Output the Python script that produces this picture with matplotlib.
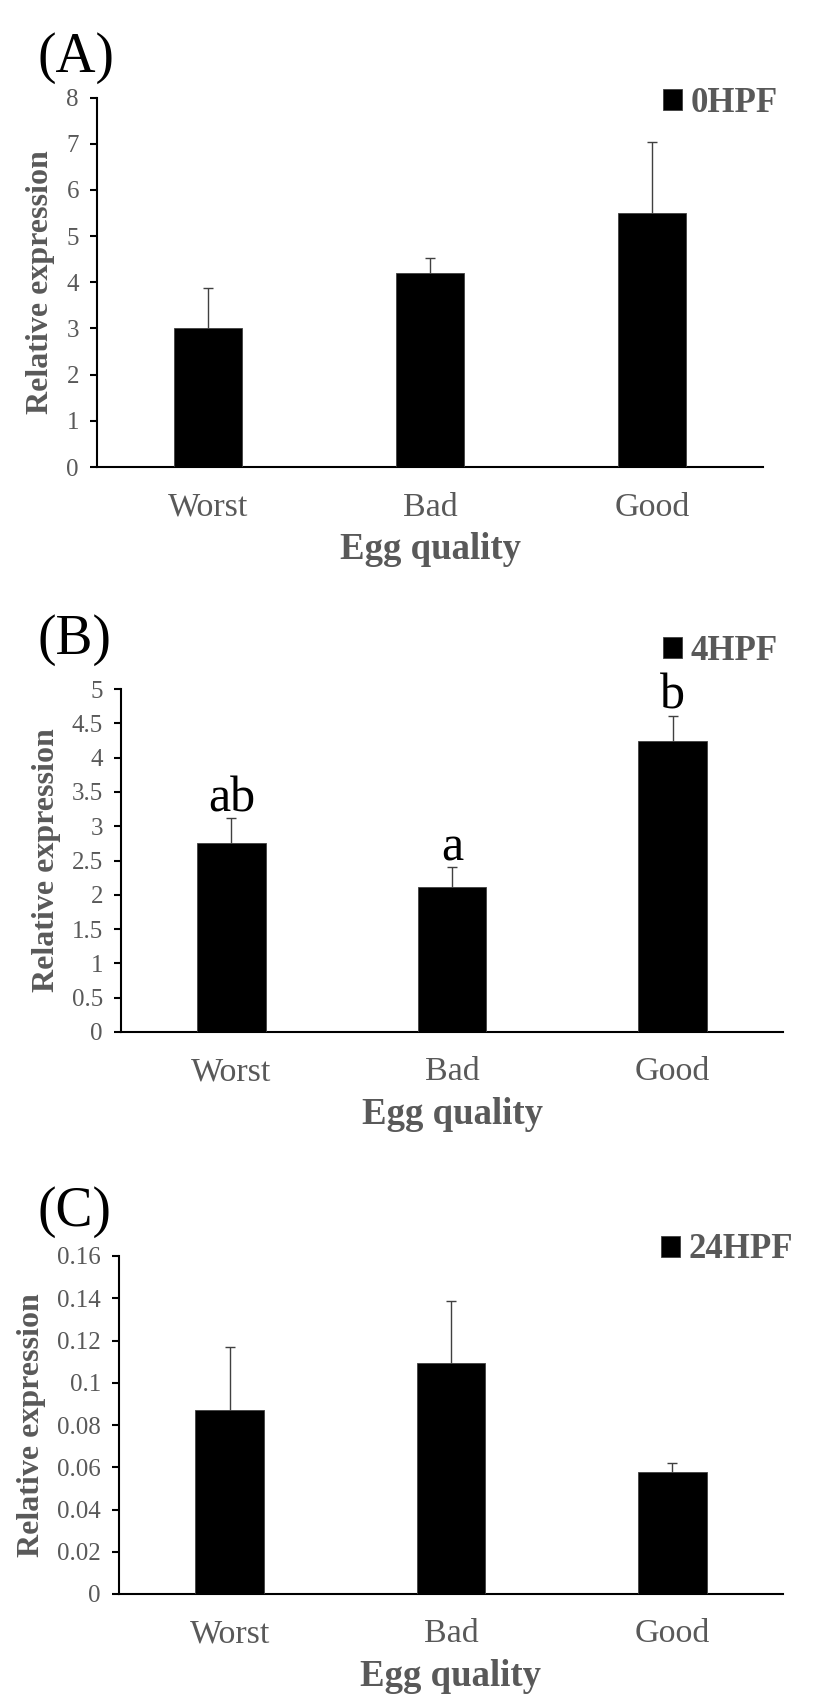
import matplotlib
matplotlib.use("Agg")
import matplotlib.pyplot as plt
from matplotlib.ticker import MultipleLocator, FormatStrFormatter

plt.rcParams['font.family'] = ['Liberation Serif', 'DejaVu Serif']

# ---------------- data ----------------
categories = ['Worst', 'Bad', 'Good']

a_means = [3.01, 4.19, 5.49]
a_err = [0.87, 0.34, 1.55]

b_means = [2.76, 2.12, 4.24]
b_err = [0.36, 0.28, 0.37]
b_letters = ['ab', 'a', 'b']

c_means = [0.0869, 0.1095, 0.0577]
c_err = [0.030, 0.0293, 0.0045]

panel_labels = ['(A)', '(B)', '(C)']
legend_labels = ['0HPF', '4HPF', '24HPF']
y_limits = [(0, 8), (0, 5), (0, 0.16)]
y_steps = [1, 0.5, 0.02]

# ---------------- layout (pixels) ----------------
W, H = 827, 1697
fig = plt.figure(figsize=(W / 100, H / 100), dpi=100)

def px_axes(left, right, top, bottom):
    return fig.add_axes([left / W, 1 - bottom / H, (right - left) / W, (bottom - top) / H])

axes_px = [(97, 763, 97.5, 467), (121, 783, 689, 1032), (119, 783, 1256, 1594)]
label_px = [(37, 58), (37, 640), (37, 1212)]
legend_px = [(663, 103), (663, 651), (661, 1250)]

GRAY = '#595959'
means_all = [a_means, b_means, c_means]
err_all = [a_err, b_err, c_err]

for i in range(3):
    ax = px_axes(*axes_px[i])
    x = list(range(len(categories)))
    bars = ax.bar(x, means_all[i], width=0.31, color='black', edgecolor='#404040',
                  linewidth=0.6, zorder=3, label=legend_labels[i])
    eb = ax.errorbar(x, means_all[i], yerr=[[0] * 3, err_all[i]], fmt='none',
                     ecolor='#404040', elinewidth=1.0, capsize=3.5, capthick=1.0, zorder=2)
    # hide lower caps (sitting on bar tops)
    eb[1][0].set_visible(False)

    ax.set_xlim(-0.5, 2.5)
    ax.set_ylim(*y_limits[i])
    ax.yaxis.set_major_locator(MultipleLocator(y_steps[i]))
    ax.yaxis.set_major_formatter(FormatStrFormatter('%g'))
    ax.set_xticks(x)
    ax.set_xticklabels(categories)

    for s in ['top', 'right']:
        ax.spines[s].set_visible(False)
    for s in ['left', 'bottom']:
        ax.spines[s].set_linewidth(1.5)
        ax.spines[s].set_color('black')

    ax.tick_params(axis='y', direction='out', length=5, width=1.5, pad=8,
                   labelsize=18, labelcolor=GRAY, color='black')
    ax.tick_params(axis='x', length=0, pad=18, labelsize=24.5, labelcolor=GRAY)

    ax.set_xlabel('Egg quality', fontsize=26.5, fontweight='bold', color=GRAY, labelpad=7)
    ax.set_ylabel('Relative expression', fontsize=23, fontweight='bold', color=GRAY, labelpad=8)

    lx, ly = legend_px[i]
    ax.legend(handles=[bars], loc='center left', bbox_to_anchor=(lx / W, 1 - ly / H),
              bbox_transform=fig.transFigure, frameon=False, borderpad=0, borderaxespad=0,
              handlelength=0.55, handleheight=0.55, handletextpad=0.25,
              prop={'family': 'Liberation Serif', 'weight': 'bold', 'size': 25},
              labelcolor=GRAY)

    px_, py_ = label_px[i]
    fig.text(px_ / W, 1 - py_ / H, panel_labels[i], fontsize=40, color='black',
             ha='left', va='center')

    if i == 1:
        for xi, m, e, t in zip(x, b_means, b_err, b_letters):
            ax.annotate(t, xy=(xi, m + e), xytext=(0, 5), textcoords='offset points',
                        ha='center', va='baseline', fontsize=36, color='black',
                        annotation_clip=False)

fig.savefig('out.png', dpi=100)
